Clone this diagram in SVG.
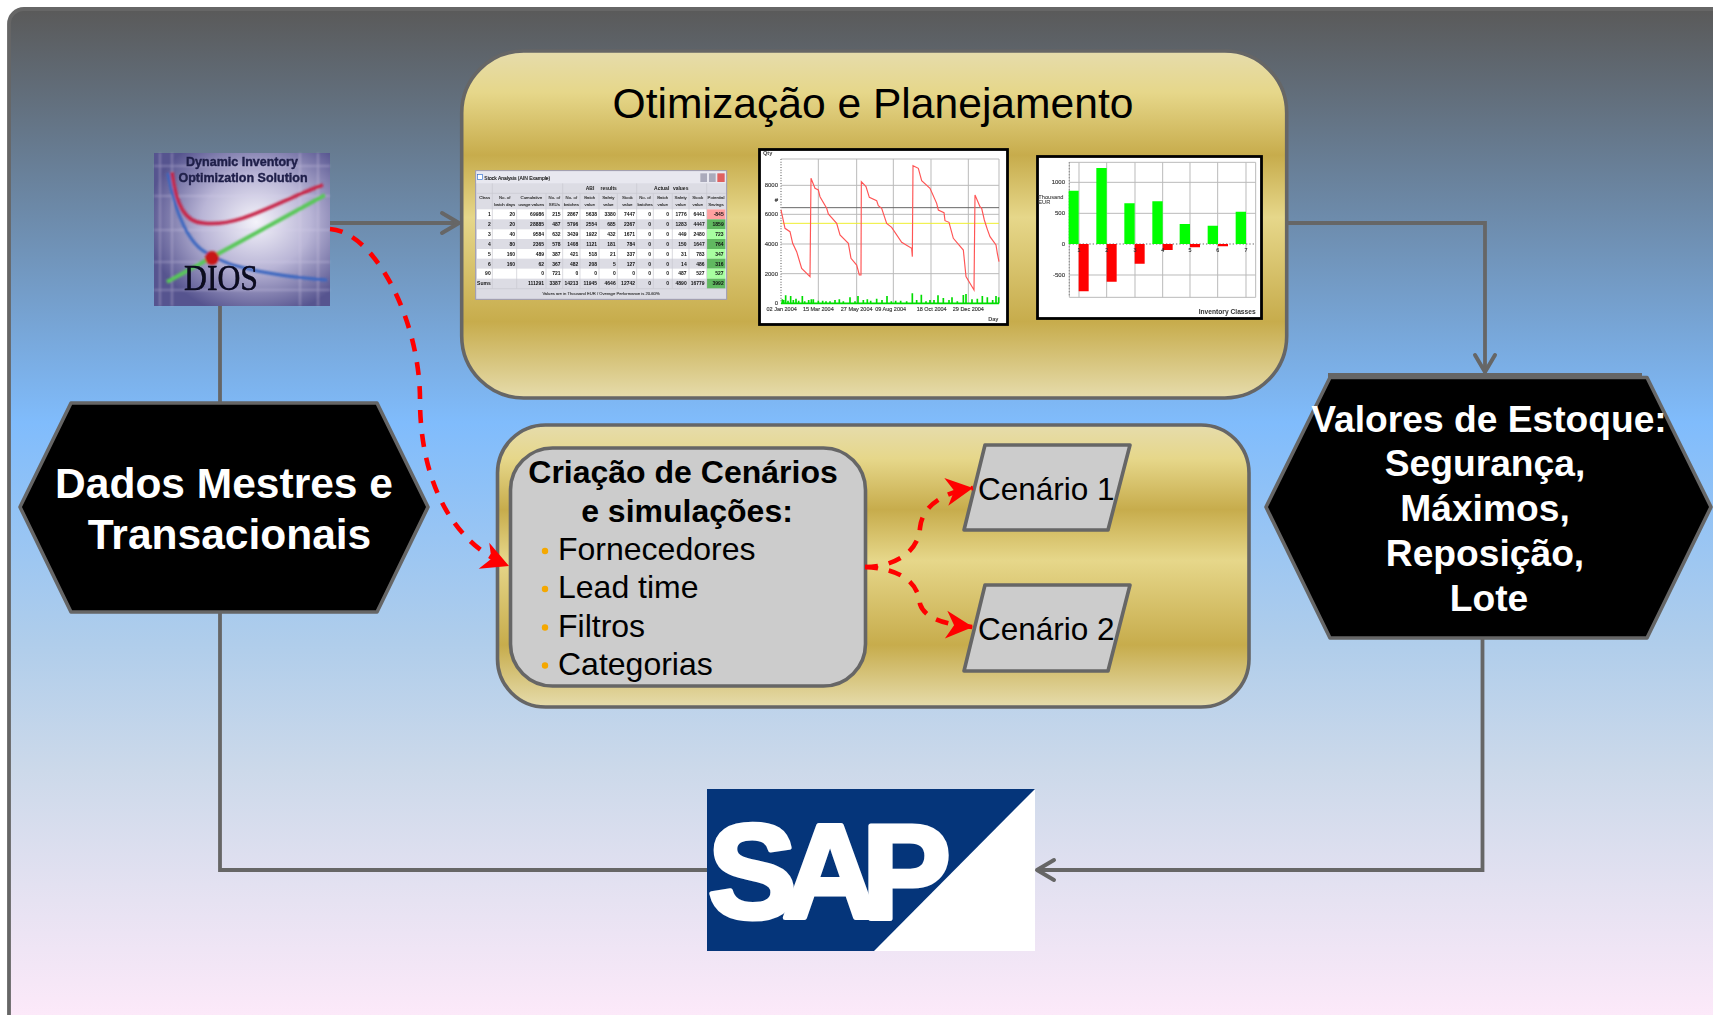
<svg xmlns="http://www.w3.org/2000/svg" width="1713" height="1015" viewBox="0 0 1713 1015">
<defs>
<linearGradient id="bg" x1="0" y1="11" x2="0" y2="1015" gradientUnits="userSpaceOnUse"><stop offset="0" stop-color="#5a5a5a"/><stop offset="0.41" stop-color="#80bcfc"/><stop offset="0.6265" stop-color="#afcdeb"/><stop offset="0.756" stop-color="#ccd9ea"/><stop offset="0.8855" stop-color="#e6e2f2"/><stop offset="1" stop-color="#fce9f9"/></linearGradient>
<linearGradient id="gold" x1="0" y1="0" x2="0" y2="1"><stop offset="0" stop-color="#e6dcac"/><stop offset="0.12" stop-color="#e6d78a"/><stop offset="0.3" stop-color="#c7ac4c"/><stop offset="0.48" stop-color="#e6d78a"/><stop offset="0.78" stop-color="#c7ac4c"/><stop offset="1" stop-color="#e6dcac"/></linearGradient>
<radialGradient id="dg" cx="0.58" cy="0.45" r="0.62"><stop offset="0" stop-color="#f4f3fa"/><stop offset="0.5" stop-color="#b9b5d6"/><stop offset="1" stop-color="#56548f"/></radialGradient>
<filter id="b" x="-5%" y="-5%" width="110%" height="110%"><feGaussianBlur stdDeviation="0.7"/></filter>
<filter id="b2" x="-5%" y="-5%" width="110%" height="110%"><feGaussianBlur stdDeviation="1.2"/></filter>
<filter id="b3" x="-5%" y="-5%" width="110%" height="110%"><feGaussianBlur stdDeviation="1.9"/></filter>
<marker id="open" markerUnits="userSpaceOnUse" markerWidth="30" markerHeight="30" refX="24" refY="15" orient="auto" overflow="visible"><path d="M7,5 L24,15 L7,25" fill="none" stroke="#666" stroke-width="4" stroke-linecap="round" stroke-linejoin="round"/></marker>
<marker id="stealth" markerUnits="userSpaceOnUse" markerWidth="30" markerHeight="30" refX="27" refY="14" orient="auto" overflow="visible"><path d="M27,14 L0,0 L8,14 L0,28 Z" fill="#f00"/></marker>
<style>
text{font-family:"Liberation Sans",Arial,sans-serif}
.panel{fill:url(#gold);stroke:#666;stroke-width:3.6}
.hex{fill:#000;stroke:#666;stroke-width:3.6;stroke-linejoin:round}
.gray{fill:#ccc;stroke:#666;stroke-width:3.6;stroke-linejoin:round}
.ht{fill:#fff;font-weight:700;text-anchor:middle}
.li{font-size:32px;fill:#000}
.ce{font-size:31.5px;fill:#000}
.bu{fill:#f5a800}
.wire{fill:none;stroke:#666;stroke-width:3.8;stroke-linejoin:miter}
.red{fill:none;stroke:#f00;stroke-width:4.6;stroke-dasharray:13 11}
.th{font-size:14px;fill:#333;text-anchor:middle;stroke:#333;stroke-width:.4}
.td{font-size:15px;fill:#111;text-anchor:end;font-weight:700}
.ax{font-size:18px;fill:#333;text-anchor:middle;stroke:#333;stroke-width:.4}
.grid{stroke:#bbb;stroke-width:3;fill:none}
</style>
</defs>
<rect width="1713" height="1015" fill="#fff"/>
<rect id="background" x="9" y="9" width="1800" height="1030" rx="15" fill="url(#bg)" stroke="#666" stroke-width="3.8"/>

<g id="panel-otimizacao">
<rect class="panel" x="461.700" y="51" width="825" height="347" rx="62"/>
<text x="873" y="118" font-size="42.6" text-anchor="middle" fill="#000">Otimização e Planejamento</text>
</g>

<g id="stock-table" transform="translate(465 140) scale(0.33333)" filter="url(#b3)">
<rect x="32" y="92" width="753" height="386" fill="#dcdce4" stroke="#9a9ab8" stroke-width="3"/>
<rect x="34" y="94" width="749" height="36" fill="#e8e8f0"/>
<rect x="37" y="104" width="16" height="15" fill="#fff" stroke="#3070d0" stroke-width="2"/>
<text x="58" y="120" font-size="15" fill="#111" stroke="#111" stroke-width=".4">Stock Analysis (AIN Example)</text>
<rect x="706" y="100" width="20" height="26" fill="#aab" /><rect x="732" y="100" width="20" height="26" fill="#aab"/><rect x="757" y="100" width="22" height="26" fill="#e06060"/>
<rect x="36" y="208" width="745" height="30" fill="#fff"/><rect x="36" y="268" width="745" height="29" fill="#fff"/><rect x="36" y="327" width="745" height="29" fill="#fff"/><rect x="36" y="386" width="745" height="30" fill="#fff"/>
<rect x="726" y="208" width="55" height="30" fill="#ffa0a0"/><rect x="726" y="238" width="55" height="30" fill="#60b860"/><rect x="726" y="268" width="55" height="29" fill="#a8ffa0"/><rect x="726" y="297" width="55" height="30" fill="#60b860"/><rect x="726" y="327" width="55" height="29" fill="#a8ffa0"/><rect x="726" y="356" width="55" height="30" fill="#60b860"/><rect x="726" y="386" width="55" height="30" fill="#a8ffa0"/><rect x="726" y="416" width="55" height="30" fill="#60b860"/>
<path d="M82,130V446M155,208V446M243,160V446M293,130V446M345,160V446M402,160V446M457,160V446M515,130V446M565,160V446M622,160V446M672,160V446M725,130V446" stroke="#c8c8d0" stroke-width="2" fill="none"/>
<path d="M36,160H782M36,446H782" stroke="#c8c8d0" stroke-width="2"/>
<text font-size="15" font-weight="700" fill="#222" text-anchor="middle" y="151"><tspan x="375">ABI</tspan><tspan x="431">results</tspan><tspan x="590">Actual</tspan><tspan x="647">values</tspan></text>
<text class="th" y="178" font-size="13" style="font-size:13px"><tspan x="59">Class</tspan><tspan x="119">No. of</tspan><tspan x="199">Cumulative</tspan><tspan x="268">No. of</tspan><tspan x="319">No. of</tspan><tspan x="374">Batch</tspan><tspan x="430">Safety</tspan><tspan x="487">Stock</tspan><tspan x="540">No. of</tspan><tspan x="593">Batch</tspan><tspan x="647">Safety</tspan><tspan x="698">Stock</tspan><tspan x="753">Potential</tspan></text>
<text class="th" y="199" style="font-size:13px"><tspan x="119">batch days</tspan><tspan x="199">usage values</tspan><tspan x="268">SKUs</tspan><tspan x="319">batches</tspan><tspan x="374">value</tspan><tspan x="430">value</tspan><tspan x="487">value</tspan><tspan x="540">batches</tspan><tspan x="593">value</tspan><tspan x="647">value</tspan><tspan x="698">value</tspan><tspan x="753">Savings</tspan></text>
<text class="td" y="229"><tspan x="77">1</tspan><tspan x="150">20</tspan><tspan x="237">69986</tspan><tspan x="287">215</tspan><tspan x="340">2867</tspan><tspan x="396">5638</tspan><tspan x="452">3380</tspan><tspan x="510">7447</tspan><tspan x="558">0</tspan><tspan x="612">0</tspan><tspan x="665">1776</tspan><tspan x="719">6441</tspan><tspan x="776">-845</tspan></text>
<text class="td" y="258"><tspan x="77">2</tspan><tspan x="150">20</tspan><tspan x="237">28885</tspan><tspan x="287">487</tspan><tspan x="340">5796</tspan><tspan x="396">2554</tspan><tspan x="452">685</tspan><tspan x="510">2367</tspan><tspan x="558">0</tspan><tspan x="612">0</tspan><tspan x="665">1283</tspan><tspan x="719">4447</tspan><tspan x="776">1859</tspan></text>
<text class="td" y="288"><tspan x="77">3</tspan><tspan x="150">40</tspan><tspan x="237">9584</tspan><tspan x="287">632</tspan><tspan x="340">3439</tspan><tspan x="396">1922</tspan><tspan x="452">432</tspan><tspan x="510">1671</tspan><tspan x="558">0</tspan><tspan x="612">0</tspan><tspan x="665">449</tspan><tspan x="719">2480</tspan><tspan x="776">723</tspan></text>
<text class="td" y="317"><tspan x="77">4</tspan><tspan x="150">80</tspan><tspan x="237">2365</tspan><tspan x="287">578</tspan><tspan x="340">1408</tspan><tspan x="396">1121</tspan><tspan x="452">181</tspan><tspan x="510">784</tspan><tspan x="558">0</tspan><tspan x="612">0</tspan><tspan x="665">150</tspan><tspan x="719">1647</tspan><tspan x="776">764</tspan></text>
<text class="td" y="347"><tspan x="77">5</tspan><tspan x="150">160</tspan><tspan x="237">489</tspan><tspan x="287">387</tspan><tspan x="340">421</tspan><tspan x="396">518</tspan><tspan x="452">21</tspan><tspan x="510">337</tspan><tspan x="558">0</tspan><tspan x="612">0</tspan><tspan x="665">31</tspan><tspan x="719">783</tspan><tspan x="776">347</tspan></text>
<text class="td" y="377"><tspan x="77">6</tspan><tspan x="150">160</tspan><tspan x="237">62</tspan><tspan x="287">367</tspan><tspan x="340">482</tspan><tspan x="396">208</tspan><tspan x="452">5</tspan><tspan x="510">127</tspan><tspan x="558">0</tspan><tspan x="612">0</tspan><tspan x="665">14</tspan><tspan x="719">486</tspan><tspan x="776">316</tspan></text>
<text class="td" y="406"><tspan x="77">90</tspan><tspan x="237">0</tspan><tspan x="287">721</tspan><tspan x="340">0</tspan><tspan x="396">0</tspan><tspan x="452">0</tspan><tspan x="510">0</tspan><tspan x="558">0</tspan><tspan x="612">0</tspan><tspan x="665">487</tspan><tspan x="719">527</tspan><tspan x="776">527</tspan></text>
<text class="td" y="436"><tspan x="77">Sums</tspan><tspan x="237">111291</tspan><tspan x="287">3387</tspan><tspan x="340">14213</tspan><tspan x="396">11945</tspan><tspan x="452">4646</tspan><tspan x="510">12742</tspan><tspan x="558">0</tspan><tspan x="612">0</tspan><tspan x="665">4890</tspan><tspan x="719">16779</tspan><tspan x="776">3992</tspan></text>
<text x="408" y="466" font-size="12.5" fill="#333" stroke="#333" stroke-width=".3" text-anchor="middle">Values are in Thousand EUR / Overage Performance is 20.60%</text>
</g>

<g id="stock-chart">
<rect x="759.500" y="149.500" width="248" height="175" fill="#fff" stroke="#000" stroke-width="2.800"/>
<g transform="translate(750 140) scale(0.33333)" filter="url(#b3)">
<path class="grid" d="M93,57H747V490M205,57V490M320,57V490M430,57V490M543,57V490M655,57V490M93,136H747M93,223H747M93,312H747M93,401H747"/>
<path d="M93,203H747" stroke="#666" stroke-width="3"/>
<path d="M93,250H747" stroke="#eeee30" stroke-width="3"/>
<path d="M93,57V490" stroke="#999" stroke-width="5" stroke-dasharray="3 5"/>
<path d="M97,490V478M101,490V480M107,490V466M114,490V482M122,490V468M130,490V480M138,490V476M146,490V482M157,490V468M164,490V484M176,490V480M184,490V478M190,490V478M205,490V482M218,490V482M228,490V484M240,490V484M255,490V480M268,490V478M280,490V484M300,490V472M315,490V484M324,490V468M340,490V480M352,490V478M362,490V482M380,490V476M396,490V480M411,490V468M424,490V484M437,490V482M452,490V482M470,490V484M487,490V460M500,490V480M514,490V464M528,490V484M540,490V480M552,490V480M564,490V466M580,490V474M597,490V480M606,490V472M622,490V484M640,490V465M648,490V462M666,490V478M682,490V476M697,490V468M712,490V472M728,490V480M738,490V468M746,490V472" stroke="#0d0" stroke-width="5" fill="none"/>
<path d="M93,490H747" stroke="#0d0" stroke-width="5"/>
<path d="M93,210L105,265L120,275L128,310L140,335L155,385L180,410L183,115L195,145L205,150L210,170L230,205L235,222L260,250L270,285L295,310L303,355L320,375L328,405L333,405L334,125L348,140L358,172L380,182L385,197L395,205L410,250L425,262L455,307L485,325L487,350L489,77L505,85L515,122L540,145L560,190L565,210L582,218L585,242L597,247L610,295L640,330L648,410L672,450L675,165L690,200L695,205L703,240L712,268L720,290L738,315L742,340L747,365" fill="none" stroke="#f55" stroke-width="3.500"/>
<text class="ax"><tspan x="84" y="142" text-anchor="end">8000</tspan><tspan x="84" y="229" text-anchor="end">6000</tspan><tspan x="84" y="318" text-anchor="end">4000</tspan><tspan x="84" y="407" text-anchor="end">2000</tspan><tspan x="84" y="494" text-anchor="end">0</tspan><tspan x="84" y="186" text-anchor="end">#</tspan></text>
<text class="ax" y="513" style="font-size:16.500px"><tspan x="95">02 Jan 2004</tspan><tspan x="205">15 Mar 2004</tspan><tspan x="320">27 May 2004</tspan><tspan x="422">09 Aug 2004</tspan><tspan x="545">18 Oct 2004</tspan><tspan x="655">29 Dec 2004</tspan></text>
<text x="53" y="46" font-size="17" font-weight="700" fill="#444" text-anchor="middle">Qty</text>
<text x="730" y="543" font-size="17" font-weight="700" fill="#444" text-anchor="middle">Day</text>
</g>
</g>

<g id="bar-chart">
<rect x="1037.500" y="156.500" width="224" height="162" fill="#fff" stroke="#000" stroke-width="2.800"/>
<g transform="translate(1025 140) scale(0.33333)" filter="url(#b3)">
<path class="grid" d="M133,67H692V472H133ZM162,67V472M245,67V472M330,67V472M413,67V472M495,67V472M578,67V472M663,67V472M133,127H692M133,220H692M133,405H692"/>
<path d="M133,312H692" stroke="#666" stroke-width="3" stroke-dasharray="4 6"/>
<path d="M133,67V472" stroke="#888" stroke-width="4" stroke-dasharray="3 6"/>
<path fill="#0f0" d="M131,152H161V312H131ZM214,84H245V312H214ZM298,190H329V312H298ZM382,184H413V312H382ZM464,252H495V312H464ZM548,257H579V312H548ZM632,215H663V312H632Z"/>
<path fill="#f00" d="M161,312H191V454H161ZM245,312H275V425H245ZM329,312H359V371H329ZM413,312H443V330H413ZM495,312H525V322H495ZM579,312H609V319H579Z"/>
<text class="ax"><tspan x="120" y="133" text-anchor="end">1000</tspan><tspan x="120" y="226" text-anchor="end">500</tspan><tspan x="120" y="318" text-anchor="end">0</tspan><tspan x="120" y="411" text-anchor="end">-500</tspan></text>
<text class="ax" y="336" style="font-size:16px"><tspan x="162">1</tspan><tspan x="245">2</tspan><tspan x="330">3</tspan><tspan x="413">4</tspan><tspan x="495">5</tspan><tspan x="578">6</tspan><tspan x="663">7</tspan></text>
<text font-size="17" fill="#444" stroke="#444" stroke-width=".3"><tspan x="40" y="178">Thousand</tspan><tspan x="40" y="192">EUR</tspan></text>
<text x="692" y="521" font-size="20" font-weight="700" fill="#333" text-anchor="end">Inventory Classes</text>
</g>
</g>

<g id="panel-cenarios">
<rect class="panel" x="497.500" y="425" width="751.500" height="282" rx="48"/>
</g>

<g id="criacao">
<rect class="gray" x="510.500" y="448" width="355" height="238" rx="42"/>
<text x="683" y="483" font-size="32" font-weight="700" fill="#000" text-anchor="middle">Criação de Cenários</text>
<text x="687" y="522" font-size="32" font-weight="700" fill="#000" text-anchor="middle">e simulações:</text>
<circle class="bu" cx="545" cy="551" r="3.200"/><circle class="bu" cx="545" cy="589" r="3.200"/><circle class="bu" cx="545" cy="627.500" r="3.200"/><circle class="bu" cx="545" cy="665.500" r="3.200"/>
<text class="li" x="558" y="560">Fornecedores</text>
<text class="li" x="558" y="598">Lead time</text>
<text class="li" x="558" y="637">Filtros</text>
<text class="li" x="558" y="675">Categorias</text>
</g>

<g id="cenario-1">
<polygon class="gray" points="985,445 1130,445 1108,530 964,530"/>
<text class="ce" x="978" y="500">Cenário 1</text>
</g>
<g id="cenario-2">
<polygon class="gray" points="985,585 1130,585 1108,671 964,671"/>
<text class="ce" x="978" y="640">Cenário 2</text>
</g>

<g id="dados-mestres">
<polygon class="hex" points="71,403 377,403 428,507 377,612 71,612 20,507"/>
<text class="ht" x="224" y="498" font-size="42.500">Dados Mestres e</text>
<text class="ht" x="229.500" y="549" font-size="42.500">Transacionais</text>
</g>

<g id="valores-estoque">
<rect x="1328" y="373" width="314" height="5" fill="#666"/>
<polygon class="hex" points="1330,377.500 1647,377.500 1711,507 1647,638 1330,638 1266,507"/>
<text class="ht" font-size="37.200" x="1489" y="432">Valores de Estoque:</text>
<text class="ht" font-size="37.200" x="1485" y="476">Segurança,</text>
<text class="ht" font-size="37.200" x="1485" y="521">Máximos,</text>
<text class="ht" font-size="37.200" x="1485" y="566">Reposição,</text>
<text class="ht" font-size="37.200" x="1489" y="611">Lote</text>
</g>

<g id="dios-logo">
<rect x="154" y="153" width="176" height="153" fill="url(#dg)"/>
<g filter="url(#b2)">
<path d="M160,153V306M172,153V306M300,153V306M318,153V306M154,166H330M154,196H330M154,230H330M154,262H330M154,290H330" stroke="#d4d0e8" stroke-width="1.600" opacity="0.4" fill="none"/>
<path d="M168,173C175,215 190,245 207,253C225,265 260,275 327,280" fill="none" stroke="#3a66c0" stroke-width="3"/>
<path d="M172,172C176,205 185,222 203,223C240,228 280,200 323,185" fill="none" stroke="#c82848" stroke-width="3.500"/>
<path d="M167,282L325,195" fill="none" stroke="#58c858" stroke-width="4"/>
<circle cx="212" cy="258" r="7" fill="#c81818"/>
</g>
<g filter="url(#b)">
<text x="242" y="166" font-size="12.500" font-weight="700" fill="#20204a" stroke="#20204a" stroke-width=".4" text-anchor="middle">Dynamic Inventory</text>
<text x="243" y="182" font-size="12.500" font-weight="700" fill="#20204a" stroke="#20204a" stroke-width=".4" text-anchor="middle">Optimization Solution</text>
<text x="184" y="290" font-size="35" fill="#08081c" stroke="#08081c" stroke-width=".5" textLength="74" lengthAdjust="spacingAndGlyphs" style="font-family:'Liberation Serif',serif">DIOS</text>
</g>
</g>

<g id="sap-logo">
<rect x="707" y="789" width="328" height="162" fill="#fff"/>
<polygon points="707,789 1035,789 874,951 707,951" fill="#05357a"/>
<text x="708 782 862" y="918" font-size="133" font-weight="700" fill="#fff" stroke="#fff" stroke-width="5" stroke-linejoin="round">SAP</text>
</g>

<g id="connectors">
<path class="wire" d="M330,223H459" marker-end="url(#open)"/>
<path class="wire" d="M1287,223H1485V372" marker-end="url(#open)"/>
<path class="wire" d="M220,306V403"/>
<path class="wire" d="M220,612V870H707"/>
<path class="wire" d="M1482.500,638V870H1037" marker-end="url(#open)"/>
<path class="red" d="M330,229C375,232 420,320 420,400C420,470 445,540 509,566" marker-end="url(#stealth)"/>
<path class="red" d="M865,567C890,567 918,555 920,528C922,505 945,492 973,488" marker-end="url(#stealth)"/>
<path class="red" d="M865,567C893,568 918,578 920,604C925,620 950,625 973,627" marker-end="url(#stealth)"/>
</g>
</svg>
